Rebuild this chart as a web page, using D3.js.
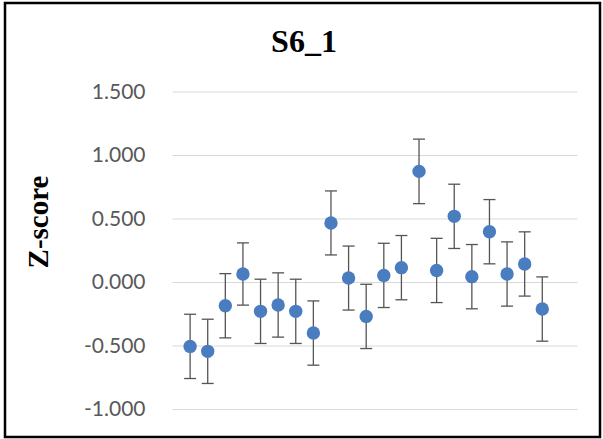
<!DOCTYPE html>
<html>
    <head>
        <meta charset="utf-8">
        <style>
            body { margin: 0; background: #ffffff; }
        </style>
    </head>
    <body>
        <div id="graph_div"></div>
    </body>
    <script src="https://d3js.org/d3.v7.min.js"></script>
    <script>
      // values
      var pointIndex = [1, 2, 3, 4, 5, 6, 7, 8, 9, 10, 11, 12, 13, 14, 15, 16, 17, 18, 19, 20, 21];
      var zScores = [-0.507, -0.546, -0.187, 0.063, -0.231, -0.181, -0.231, -0.402, 0.465, 0.031,
                     -0.271, 0.052, 0.113, 0.871, 0.091, 0.517, 0.042, 0.396, 0.063, 0.142, -0.213];
      var errors = [0.253, 0.253, 0.253, 0.245, 0.253, 0.253, 0.253, 0.253, 0.252, 0.252,
                    0.253, 0.253, 0.253, 0.254, 0.253, 0.253, 0.253, 0.253, 0.253, 0.253, 0.253];
      var yTicks = [-1.0, -0.5, 0.0, 0.5, 1.0, 1.5];
      var xDomain = [0, 23];

      var width = 603, height = 439;

      var svg = d3.select("#graph_div")
        .append("svg")
          .attr("width", width)
          .attr("height", height);

      // outer frame
      svg.append("rect")
        .attr("x", 5)
        .attr("y", 3)
        .attr("width", 595)
        .attr("height", 434)
        .style("fill", "#ffffff")
        .style("stroke", "#000000")
        .style("stroke-width", 2.5);

      var x = d3.scaleLinear()
        .domain(xDomain)
        .range([172.5, 577.5]);

      var y = d3.scaleLinear()
        .domain([-1, 1.5])
        .range([409, 91.5]);

      // plain hyphen for negatives, like the original
      var fmt = d3.format(".3f");

      // gridlines + tick labels
      var yAxis = svg.append("g")
        .attr("transform", "translate(172.5,0)")
        .call(d3.axisLeft(y)
          .tickValues(yTicks)
          .tickSize(-(577.5 - 172.5))
          .tickPadding(27)
          .tickFormat(function(d) { return fmt(d).replace("\u2212", "-") }));
      yAxis.select(".domain").remove();
      yAxis.selectAll(".tick line")
        .attr("stroke", "#d9d9d9")
        .attr("stroke-width", 1);
      yAxis.selectAll(".tick text")
        .attr("fill", "#595959")
        .style("font-family", "Lato, 'Open Sans', sans-serif")
        .style("font-size", "21px");

      var data = pointIndex.map(function(d, i) {
        return {idx: d, value: zScores[i], err: errors[i]};
      });

      // error bars
      var bars = svg.append("g")
        .selectAll("g")
        .data(data)
        .enter()
        .append("g")
          .attr("stroke", "#555555")
          .attr("stroke-width", 1.3);
      bars.append("line")
        .attr("x1", function(d) { return x(d.idx) })
        .attr("x2", function(d) { return x(d.idx) })
        .attr("y1", function(d) { return y(d.value + d.err) })
        .attr("y2", function(d) { return y(d.value - d.err) });
      bars.append("line")
        .attr("x1", function(d) { return x(d.idx) - 6 })
        .attr("x2", function(d) { return x(d.idx) + 6 })
        .attr("y1", function(d) { return y(d.value + d.err) })
        .attr("y2", function(d) { return y(d.value + d.err) });
      bars.append("line")
        .attr("x1", function(d) { return x(d.idx) - 6 })
        .attr("x2", function(d) { return x(d.idx) + 6 })
        .attr("y1", function(d) { return y(d.value - d.err) })
        .attr("y2", function(d) { return y(d.value - d.err) });

      // markers
      svg.append("g")
        .selectAll("circle")
        .data(data)
        .enter()
        .append("circle")
          .attr("cx", function(d) { return x(d.idx) })
          .attr("cy", function(d) { return y(d.value) })
          .attr("r", 6.7)
          .style("fill", "#4a7dc0");

      // title
      svg.append("text")
        .attr("text-anchor", "middle")
        .attr("x", 304)
        .attr("y", 52)
        .style("font-family", "'Liberation Serif', 'Times New Roman', serif")
        .style("font-weight", "bold")
        .style("font-size", "32px")
        .text("S6_1");

      // y label
      svg.append("text")
        .attr("text-anchor", "middle")
        .attr("transform", "translate(48,222) rotate(-90)")
        .style("font-family", "'Liberation Serif', 'Times New Roman', serif")
        .style("font-weight", "bold")
        .style("font-size", "29px")
        .text("Z-score");
    </script>
</html>
